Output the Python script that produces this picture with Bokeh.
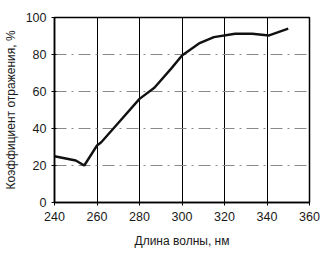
from bokeh.plotting import figure
from bokeh.embed import file_html
from bokeh.resources import INLINE
from bokeh.models import FixedTicker, Range1d

wavelength = [240, 250, 254, 260, 262, 270, 280, 287, 295, 300, 308, 315, 325, 333, 341, 350]
reflectance = [25, 22.7, 20, 30.8, 32.6, 43, 56, 62, 72.5, 79.5, 86, 89.4, 91.2, 91.2, 90.3, 94]
x_ticks = [240, 260, 280, 300, 320, 340, 360]
y_ticks = [0, 20, 40, 60, 80, 100]

p = figure(frame_width=255, frame_height=185, output_backend="svg", toolbar_location=None,
           x_range=Range1d(240, 360), y_range=Range1d(0, 100),
           min_border_left=53, min_border_right=12, min_border_top=17, min_border_bottom=52)
p.background_fill_color = "white"
p.border_fill_color = "white"
p.outline_line_color = "black"
p.outline_line_width = 1.5

p.line(wavelength, reflectance, line_color="#111111", line_width=2.4)

for ax in (p.xaxis, p.yaxis):
    ax.major_label_text_font = "Liberation Sans"
    ax.major_label_text_font_size = "12.5px"
    ax.major_label_text_color = "#1a1a1a"
    ax.axis_label_text_font = "Liberation Sans"
    ax.axis_label_text_font_size = "12px"
    ax.axis_label_text_font_style = "normal"
    ax.axis_label_text_color = "#1a1a1a"
    ax.axis_line_color = "black"
    ax.axis_line_width = 1.5
    ax.major_tick_line_color = "black"
    ax.major_tick_out = 3
    ax.major_tick_in = 2
    ax.minor_tick_line_color = None

p.xaxis.ticker = FixedTicker(ticks=x_ticks)
p.yaxis.ticker = FixedTicker(ticks=y_ticks)
p.xaxis.axis_label = "Длина волны, нм"
p.yaxis.axis_label = "Коэффициент отражения, %"
p.xaxis.major_label_standoff = 6
p.yaxis.major_label_standoff = 5
p.xaxis.axis_label_standoff = 10
p.yaxis.axis_label_standoff = 5

p.xgrid.ticker = FixedTicker(ticks=[260, 280, 300, 320, 340])
p.xgrid.grid_line_color = "black"
p.xgrid.grid_line_width = 1
p.ygrid.ticker = FixedTicker(ticks=[20, 40, 60, 80])
p.ygrid.grid_line_color = "#8a8a8a"
p.ygrid.grid_line_width = 1.2
p.ygrid.grid_line_dash = "12 5 2 5"

open("out.html", "w").write(file_html(p, INLINE))
